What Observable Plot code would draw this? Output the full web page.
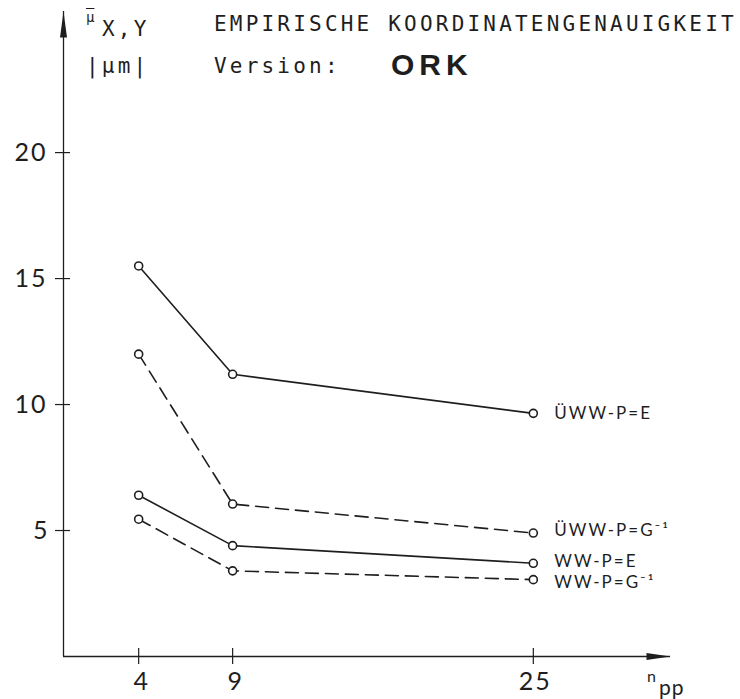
<!DOCTYPE html>
<html><head><meta charset="utf-8">
<script src="https://cdn.jsdelivr.net/npm/d3@7"></script>
<script src="https://cdn.jsdelivr.net/npm/@observablehq/plot@0.6"></script>
<style>
body{margin:0;background:#fff;}
#wrap{position:relative;width:740px;height:699px;}
.ov{position:absolute;white-space:nowrap;color:#1e1e1e;line-height:1;}
.mono{font-family:"DejaVu Sans Mono",monospace;font-size:21px;letter-spacing:3.2px;}
.geo{font-family:"Lato","DejaVu Sans",sans-serif;}
</style></head><body>
<div id="wrap"></div>
<script>
// ---- data ----
const nPoints = [4, 9, 25];
const seriesNames = ["ÜWW-P=E", "ÜWW-P=G⁻¹", "WW-P=E", "WW-P=G⁻¹"];
const seriesDashed = [false, true, false, true];
const labelShift = [0, -2, -2, 3];
const valuesUwwE = [15.5, 11.2, 9.65];
const valuesUwwG = [12.0, 6.05, 4.9];
const valuesWwE  = [6.4, 4.4, 3.7];
const valuesWwG  = [5.45, 3.4, 3.05];
const xTicks = [4, 9, 25];
const yTicks = [5, 10, 15, 20];
const titleText = "EMPIRISCHE KOORDINATENGENAUIGKEIT";
const versionLabel = "Version:";
const versionName = "ORK";
const yUnit = "|μm|";

const allValues = [valuesUwwE, valuesUwwG, valuesWwE, valuesWwG];
const rows = [];
seriesNames.forEach((s, i) => nPoints.forEach((n, j) =>
  rows.push({series: s, dashed: seriesDashed[i], shift: labelShift[i], n, v: allValues[i][j], last: j === nPoints.length - 1})));

const xMax = 32.3, yMax = 25.6;
const ink = "#1e1e1e";
const sans = "Lato, DejaVu Sans, sans-serif";
const arrowRight = {draw(ctx){ ctx.moveTo(0,0); ctx.lineTo(-24,-3.5); ctx.lineTo(-24,3.5); ctx.closePath(); }};
const arrowUp = {draw(ctx){ ctx.moveTo(0,0); ctx.lineTo(-3.5,26); ctx.lineTo(3.5,26); ctx.closePath(); }};

const labelMarks = rows.filter(d => d.last).map(d =>
  Plot.text([d], {x: "n", y: "v", text: "series", dx: 21, dy: d.shift, textAnchor: "start",
    fontSize: 17, fill: ink, fontFamily: sans}));

const chart = Plot.plot({
  width: 740, height: 699,
  marginLeft: 63, marginRight: 70, marginTop: 11, marginBottom: 43,
  x: {domain: [0, xMax], axis: null},
  y: {domain: [0, yMax], axis: null},
  style: {background: "white", color: ink},
  marks: [
    Plot.ruleY([0], {stroke: ink, strokeWidth: 1.3}),
    Plot.ruleX([0], {stroke: ink, strokeWidth: 1.3}),
    Plot.dot([0], {x: xMax, y: 0, symbol: arrowRight, fill: ink, stroke: "none"}),
    Plot.dot([0], {x: 0, y: yMax, symbol: arrowUp, fill: ink, stroke: "none"}),
    Plot.ruleX(xTicks, {x: d => d, y1: 0, y2: 0, insetTop: 8, insetBottom: 8, stroke: ink, strokeWidth: 1.2}),
    Plot.ruleY(yTicks, {y: d => d, x1: 0, x2: 0, insetLeft: 7, insetRight: 8, stroke: ink, strokeWidth: 1.2}),
    Plot.text(xTicks, {x: d => d, y: 0, dy: 25, dx: 2, text: d => String(d), fontSize: 25, fill: ink, fontFamily: sans}),
    Plot.text(yTicks, {x: 0, y: d => d, dx: -16, textAnchor: "end", text: d => String(d), fontSize: 25, fill: ink, fontFamily: sans}),
    Plot.line(rows.filter(d => !d.dashed), {x: "n", y: "v", z: "series", stroke: ink, strokeWidth: 1.6}),
    Plot.line(rows.filter(d => d.dashed), {x: "n", y: "v", z: "series", stroke: ink, strokeWidth: 1.6, strokeDasharray: "13,7"}),
    Plot.dot(rows, {x: "n", y: "v", r: 4, fill: "white", stroke: ink, strokeWidth: 1.6}),
    ...labelMarks
  ]
});
const wrap = document.getElementById("wrap");
wrap.appendChild(chart);
// spaced-out lettering, as in the reference
d3.select(chart).selectAll("text").each(function() {
  const t = this.textContent;
  if (seriesNames.includes(t)) this.setAttribute("letter-spacing", "2");
  else if (/^\d+$/.test(t)) this.setAttribute("letter-spacing", t.length > 1 ? "2" : "0");
});

function overlay(html, cls, left, top, style) {
  const d = document.createElement("div");
  d.className = "ov " + cls;
  d.innerHTML = html;
  d.style.left = left + "px"; d.style.top = top + "px";
  Object.assign(d.style, style || {});
  wrap.appendChild(d);
}
// typewriter text (same pitch as the title)
overlay(titleText, "mono", 214, 14);
overlay(versionLabel, "mono", 214, 56);
overlay(yUnit, "mono", 86, 56);
overlay("X,Y", "mono", 102, 19);
overlay("μ", "mono", 86, 10, {fontSize: "14px", letterSpacing: "0", textDecoration: "overline"});
// stamped bold version name
overlay(versionName, "", 391, 50, {fontFamily: "'Liberation Sans', Arial, sans-serif", fontWeight: "bold", fontSize: "30px", letterSpacing: "5px"});
// x-axis name n_pp
overlay("n", "geo", 647, 668, {fontSize: "16px"});
overlay("pp", "geo", 659, 676, {fontSize: "21px", letterSpacing: "1px"});
</script>
</body></html>
